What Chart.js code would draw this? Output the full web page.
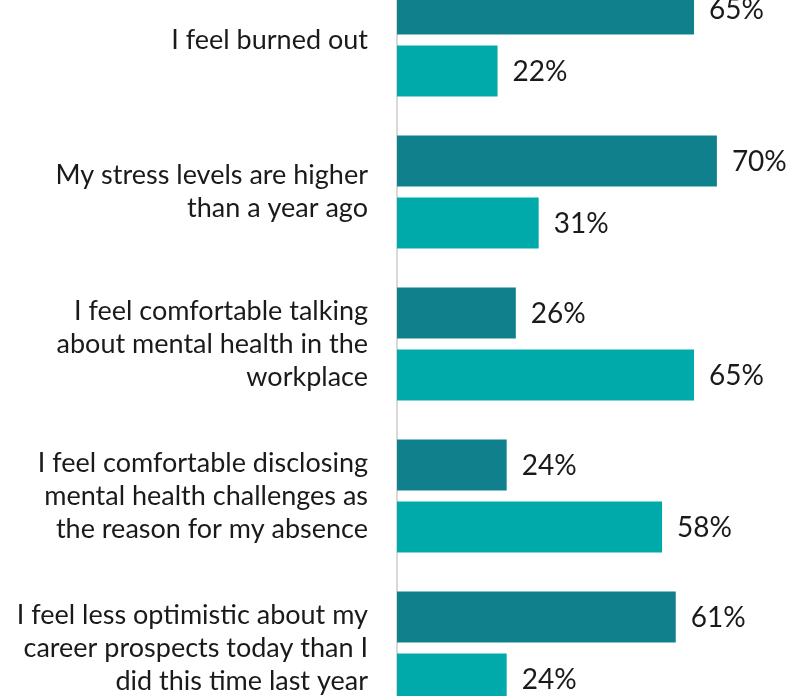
<!DOCTYPE html>
<html>
<head>
<meta charset="utf-8">
<script src="https://cdn.jsdelivr.net/npm/chart.js@4.4.1/dist/chart.umd.min.js"></script>
<style>
  html, body { margin: 0; padding: 0; background: #fff; overflow: hidden; width: 790px; height: 696px; }
  #surveyChart { position: absolute; left: 0; top: -36px; }
</style>
</head>
<body>
<canvas id="surveyChart" width="790" height="760"></canvas>
<script>
// categorias (etiquetas en varias lineas)
const categories = [
  ['I feel burned out'],
  ['My stress levels are higher', 'than a year ago'],
  ['I feel comfortable talking', 'about mental health in the', 'workplace'],
  ['I feel comfortable disclosing', 'mental health challenges as', 'the reason for my absence'],
  ['I feel less optimistic about my', 'career prospects today than I', 'did this time last year']
];
const seriesA = [65, 70, 26, 24, 61];
const seriesB = [22, 31, 65, 58, 24];

const FONT = 'Lato, "Open Sans", sans-serif';

// etiquetas de valor al final de cada barra
const valueLabels = {
  id: 'valueLabels',
  afterDatasetsDraw(chart) {
    const ctx = chart.ctx;
    ctx.save();
    ctx.font = '28px ' + FONT;
    ctx.fillStyle = '#1a1a1a';
    ctx.textBaseline = 'middle';
    ctx.textAlign = 'left';
    chart.data.datasets.forEach((ds, i) => {
      chart.getDatasetMeta(i).data.forEach((bar, j) => {
        ctx.fillText(ds.data[j] + '%', bar.x + 15, bar.y + 1);
      });
    });
    ctx.restore();
  }
};

const ctx = document.getElementById('surveyChart').getContext('2d');
new Chart(ctx, {
  type: 'bar',
  data: {
    labels: categories,
    datasets: [{
      label: 'A',
      data: seriesA,
      backgroundColor: '#10808C',
      categoryPercentage: 0.816,
      barPercentage: 0.823
    }, {
      label: 'B',
      data: seriesB,
      backgroundColor: '#00A9AA',
      categoryPercentage: 0.816,
      barPercentage: 0.823
    }]
  },
  options: {
    indexAxis: 'y',
    responsive: false,
    animation: false,
    layout: { padding: 0 },
    plugins: {
      legend: { display: false },
      tooltip: { enabled: false }
    },
    scales: {
      x: {
        display: false,
        min: 0,
        max: 86
      },
      y: {
        afterFit(scale) {
          scale.width = 397;
          scale.paddingTop = 0;
          scale.paddingBottom = 0;
        },
        grid: { display: false, drawTicks: false },
        border: { display: true, color: '#D9D9D9', width: 2 },
        ticks: {
          padding: 29,
          color: '#1a1a1a',
          font: { family: FONT, size: 27, lineHeight: 1.22 }
        }
      }
    }
  },
  plugins: [valueLabels]
});
</script>
</body>
</html>
